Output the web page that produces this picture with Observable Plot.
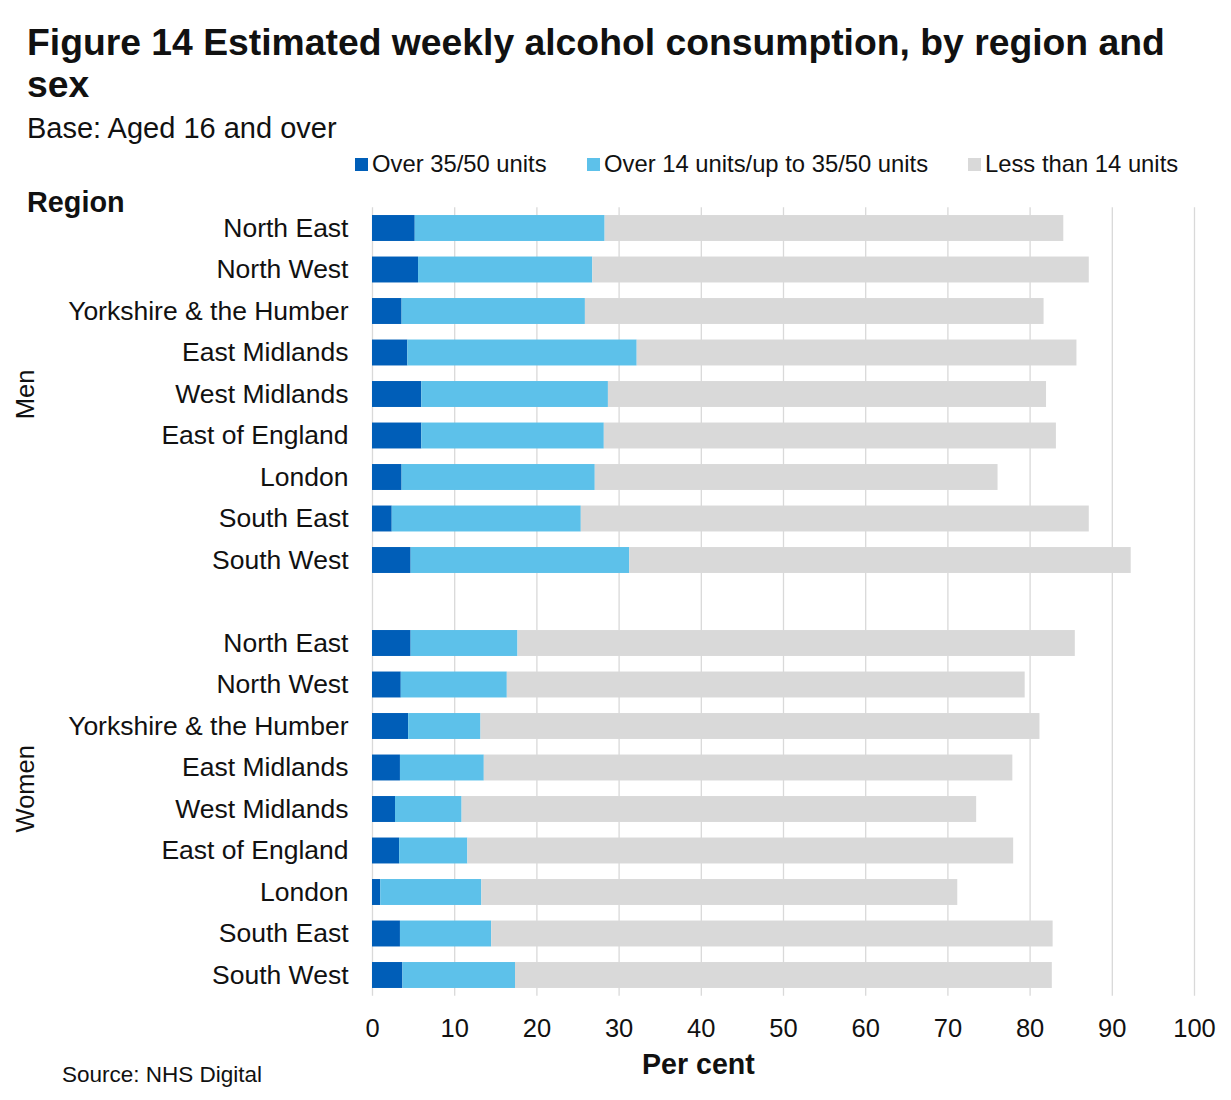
<!DOCTYPE html>
<html>
<head>
<meta charset="utf-8">
<script src="https://cdn.jsdelivr.net/npm/d3@7"></script>
<script src="https://cdn.jsdelivr.net/npm/@observablehq/plot@0.6"></script>
<style>
  html, body { margin: 0; padding: 0; background: #ffffff; }
  #wrap { position: relative; width: 1231px; height: 1100px; font-family: "Liberation Sans", Arial, sans-serif; color: #111; overflow: hidden; }
  .abs { position: absolute; white-space: nowrap; }
  #title { left: 27px; top: 21px; width: 1170px; font-size: 37.3px; line-height: 42px; font-weight: bold; white-space: normal; }
  #subtitle { left: 27px; top: 113px; font-size: 29px; line-height: 30px; }
  .leg { top: 151px; font-size: 23.8px; line-height: 26px; display: flex; align-items: center; }
  .sw { width: 13px; height: 13px; margin-right: 4px; display: inline-block; }
  #region { left: 27px; top: 187px; font-size: 28.8px; line-height: 30px; font-weight: bold; }
  #xlabel { left: 642px; top: 1049px; font-size: 28.6px; line-height: 30px; font-weight: bold; }
  #source { left: 62px; top: 1062px; font-size: 22.5px; line-height: 26px; }
  #chart { position: absolute; left: 0; top: 180px; }
  #chart svg { display: block; }
</style>
</head>
<body>
<div id="wrap">
  <div id="title" class="abs">Figure 14 Estimated weekly alcohol consumption, by region and sex</div>
  <div id="subtitle" class="abs">Base: Aged 16 and over</div>
  <div id="legend"></div>
  <div id="region" class="abs">Region</div>
  <div id="chart"></div>
  <div id="xlabel" class="abs">Per cent</div>
  <div id="source" class="abs">Source: NHS Digital</div>
</div>
<script>
const regions = ["North East", "North West", "Yorkshire & the Humber", "East Midlands", "West Midlands", "East of England", "London", "South East", "South West"];
const sexes = ["Men", "Women"];
const categories = ["Over 35/50 units", "Over 14 units/up to 35/50 units", "Less than 14 units"];
const colors = ["#005EB8", "#5DC1EA", "#D9D9D9"];

const menOver35 = [5.2, 5.6, 3.6, 4.3, 6.0, 6.0, 3.6, 2.4, 4.7];
const menOver14 = [23.1, 21.2, 22.3, 27.9, 22.7, 22.2, 23.5, 23.0, 26.6];
const menUnder14 = [55.8, 60.4, 55.8, 53.5, 53.3, 55.0, 49.0, 61.8, 61.0];

const womenOver35 = [4.7, 3.5, 4.4, 3.4, 2.8, 3.3, 1.0, 3.4, 3.7];
const womenOver14 = [13.0, 12.9, 8.8, 10.2, 8.1, 8.3, 12.3, 11.1, 13.7];
const womenUnder14 = [67.8, 63.0, 68.0, 64.3, 62.6, 66.4, 57.9, 68.3, 65.3];

const xTicks = [0, 10, 20, 30, 40, 50, 60, 70, 80, 90, 100];

// Legend (HTML)
const legendLefts = [355, 587, 968];
const legend = document.getElementById("legend");
categories.forEach((c, i) => {
  const item = document.createElement("div");
  item.className = "abs leg";
  item.style.left = legendLefts[i] + "px";
  item.innerHTML = `<span class="sw" style="background:${colors[i]}"></span><span>${c}</span>`;
  legend.appendChild(item);
});

// Build long table
const series = {
  Men: [menOver35, menOver14, menUnder14],
  Women: [womenOver35, womenOver14, womenUnder14]
};
const rows = [];
for (const s of sexes) {
  regions.forEach((r, i) => {
    categories.forEach((c, k) => {
      rows.push({sex: s, key: s + "|" + r, category: c, value: series[s][k][i]});
    });
  });
}
const yDomain = [...regions.map(r => "Men|" + r), "gap", ...regions.map(r => "Women|" + r)];

const chart = Plot.plot({
  width: 1231,
  height: 920,
  marginLeft: 372,
  marginRight: 37,
  marginTop: 27.25,
  marginBottom: 104.25,
  style: {fontFamily: "'Liberation Sans', Arial, sans-serif", fontSize: "26px", color: "#111", background: "transparent"},
  x: {domain: [0, 100]},
  y: {domain: yDomain, paddingInner: 0.375, paddingOuter: 0.1875, round: false},
  color: {domain: categories, range: colors},
  marks: [
    Plot.gridX(xTicks, {stroke: "#d9d9d9", strokeOpacity: 1, strokeWidth: 1.3}),
    Plot.barX(rows, Plot.stackX({y: "key", x: "value", fill: "category", order: null})),
    Plot.axisX(xTicks, {tickSize: 0, tickPadding: 23, fontSize: 25.5, label: null, fill: "#111"}),
    Plot.axisY({tickSize: 0, tickPadding: 24, fontSize: 26.5, label: null, fill: "#111",
      tickFormat: d => d.includes("|") ? d.split("|")[1] : ""}),
    Plot.text(["Men"], {y: () => "Men|West Midlands", text: d => d, frameAnchor: "left", dx: -347, rotate: -90, fontSize: 25.5, fill: "#111", textAnchor: "middle"}),
    Plot.text(["Women"], {y: () => "Women|West Midlands", text: d => d, frameAnchor: "left", dx: -347, dy: -20.75, rotate: -90, fontSize: 25.5, fill: "#111", textAnchor: "middle"})
  ]
});
document.getElementById("chart").appendChild(chart);
</script>
</body>
</html>
